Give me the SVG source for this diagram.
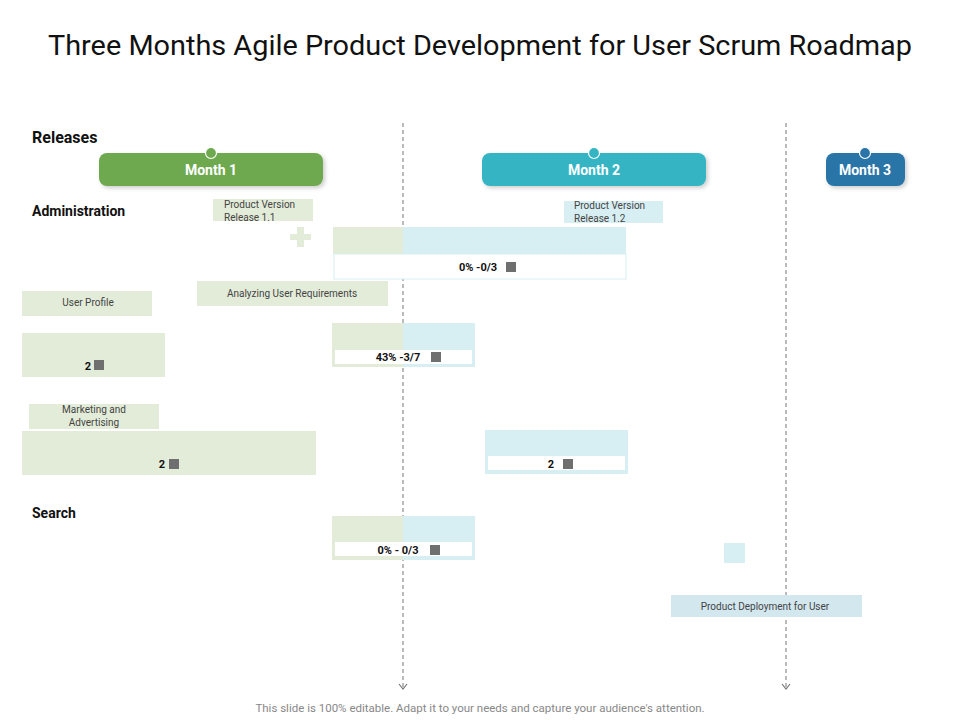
<svg xmlns="http://www.w3.org/2000/svg" width="960" height="720" viewBox="0 0 960 720">
<defs>
<style>
text{font-family:Roboto,"Liberation Sans",sans-serif}
.b{font-weight:bold;fill:#111}
.s{font-size:10px;fill:#444}
.lg{fill:#e3ecd9}
.lb{fill:#d7eef3}
.w{fill:#fff}
.sq{fill:#6f6f6f}
.m{font-size:14px;font-weight:bold;fill:#fff;text-anchor:middle}
.dash{stroke:#777;stroke-width:1;stroke-dasharray:4,3}
</style>
<marker id="ar" markerWidth="10" markerHeight="10" refX="8" refY="5" orient="auto" markerUnits="userSpaceOnUse"><path d="M3,1 L8,5 L3,9" fill="none" stroke="#777" stroke-width="1.2"/></marker>
<filter id="sh" x="-10%" y="-20%" width="130%" height="160%"><feDropShadow dx="2" dy="2" stdDeviation="2" flood-color="#000" flood-opacity="0.2"/></filter>
</defs>
<rect width="960" height="720" fill="#fff"/>
<text x="480" y="55" font-size="28.5" text-anchor="middle" fill="#111" textLength="864" lengthAdjust="spacingAndGlyphs">Three Months Agile Product Development for User Scrum Roadmap</text>
<text x="32" y="143" class="b" font-size="16">Releases</text>
<text x="32" y="216" class="b" font-size="14">Administration</text>
<text x="32" y="518" class="b" font-size="14">Search</text>

<g id="connectors">
<line x1="403" y1="123" x2="403" y2="689" class="dash" marker-end="url(#ar)"/>
<line x1="786" y1="123" x2="786" y2="689" class="dash" marker-end="url(#ar)"/>
</g>

<g id="month1"><rect x="99" y="153" width="224" height="33" rx="8" fill="#6ea94f" filter="url(#sh)"/><circle cx="211" cy="153" r="5.5" fill="#6ea94f" stroke="#fff" stroke-width="1.2"/><text x="211" y="175" class="m">Month 1</text></g>
<g id="month2"><rect x="482" y="153" width="224" height="33" rx="8" fill="#35b4c4" filter="url(#sh)"/><circle cx="594" cy="153" r="5.5" fill="#35b4c4" stroke="#fff" stroke-width="1.2"/><text x="594" y="175" class="m">Month 2</text></g>
<g id="month3"><rect x="826" y="153" width="79" height="33" rx="8" fill="#2a74a8" filter="url(#sh)"/><circle cx="865" cy="153" r="5.5" fill="#2a74a8" stroke="#fff" stroke-width="1.2"/><text x="865" y="175" class="m">Month 3</text></g>

<g id="pv11"><rect x="213" y="199" width="100" height="22" class="lg"/><text x="224" y="208" class="s">Product Version</text><text x="224" y="221" class="s">Release 1.1</text></g>
<g id="plus"><rect x="297" y="227" width="7" height="20" class="lg"/><rect x="290" y="234" width="21" height="6" class="lg"/></g>
<g id="bar1"><rect x="333" y="227" width="70" height="27" class="lg"/><rect x="403" y="227" width="223" height="27" class="lb"/><rect x="334" y="254" width="292" height="25" class="w" stroke="#d7eef3"/><text x="478" y="271" class="b" font-size="11" text-anchor="middle">0% -0/3</text><rect x="506" y="262" width="10" height="10" class="sq"/></g>
<g id="pv12"><rect x="564" y="201" width="99" height="22" class="lb"/><text x="574" y="209" class="s">Product Version</text><text x="574" y="222" class="s">Release 1.2</text></g>
<g id="analyzing"><rect x="197" y="281" width="191" height="25" class="lg"/><text x="292" y="297" class="s" text-anchor="middle">Analyzing User Requirements</text></g>
<g id="userprofile"><rect x="22" y="291" width="130" height="25" class="lg"/><text x="88" y="306" class="s" text-anchor="middle">User Profile</text></g>
<g id="up2"><rect x="22" y="333" width="143" height="44" class="lg"/><text x="88" y="370" class="b" font-size="11" text-anchor="middle">2</text><rect x="94" y="360" width="10" height="10" class="sq"/></g>
<g id="bar43"><rect x="332" y="323" width="71" height="44" class="lg"/><rect x="403" y="323" width="72" height="44" class="lb"/><rect x="335" y="350" width="137" height="14" class="w"/><text x="398" y="361" class="b" font-size="11" text-anchor="middle">43% -3/7</text><rect x="431" y="352" width="10" height="10" class="sq"/></g>
<g id="marketing"><rect x="29" y="404" width="130" height="25" class="lg"/><text x="94" y="413" class="s" text-anchor="middle">Marketing and</text><text x="94" y="426" class="s" text-anchor="middle">Advertising</text></g>
<g id="mk2"><rect x="22" y="431" width="294" height="44" class="lg"/><text x="162" y="468" class="b" font-size="11" text-anchor="middle">2</text><rect x="169" y="459" width="10" height="10" class="sq"/></g>
<g id="mk2b"><rect x="485" y="430" width="143" height="44" class="lb"/><rect x="488" y="456" width="137" height="14" class="w"/><text x="551" y="468" class="b" font-size="11" text-anchor="middle">2</text><rect x="563" y="459" width="10" height="10" class="sq"/></g>
<g id="search1"><rect x="332" y="516" width="71" height="44" class="lg"/><rect x="403" y="516" width="72" height="44" class="lb"/><rect x="335" y="542" width="137" height="14" class="w"/><text x="398" y="554" class="b" font-size="11" text-anchor="middle">0% - 0/3</text><rect x="430" y="545" width="10" height="10" class="sq"/></g>
<g id="smallsq"><rect x="724" y="543" width="21" height="20" class="lb"/></g>
<g id="deploy"><rect x="671" y="595" width="191" height="22" fill="#d3e7ef"/><text x="765" y="610" class="s" text-anchor="middle">Product Deployment for User</text></g>
<text x="480" y="712" font-size="11.5" fill="#888" text-anchor="middle">This slide is 100% editable. Adapt it to your needs and capture your audience's attention.</text>
</svg>
